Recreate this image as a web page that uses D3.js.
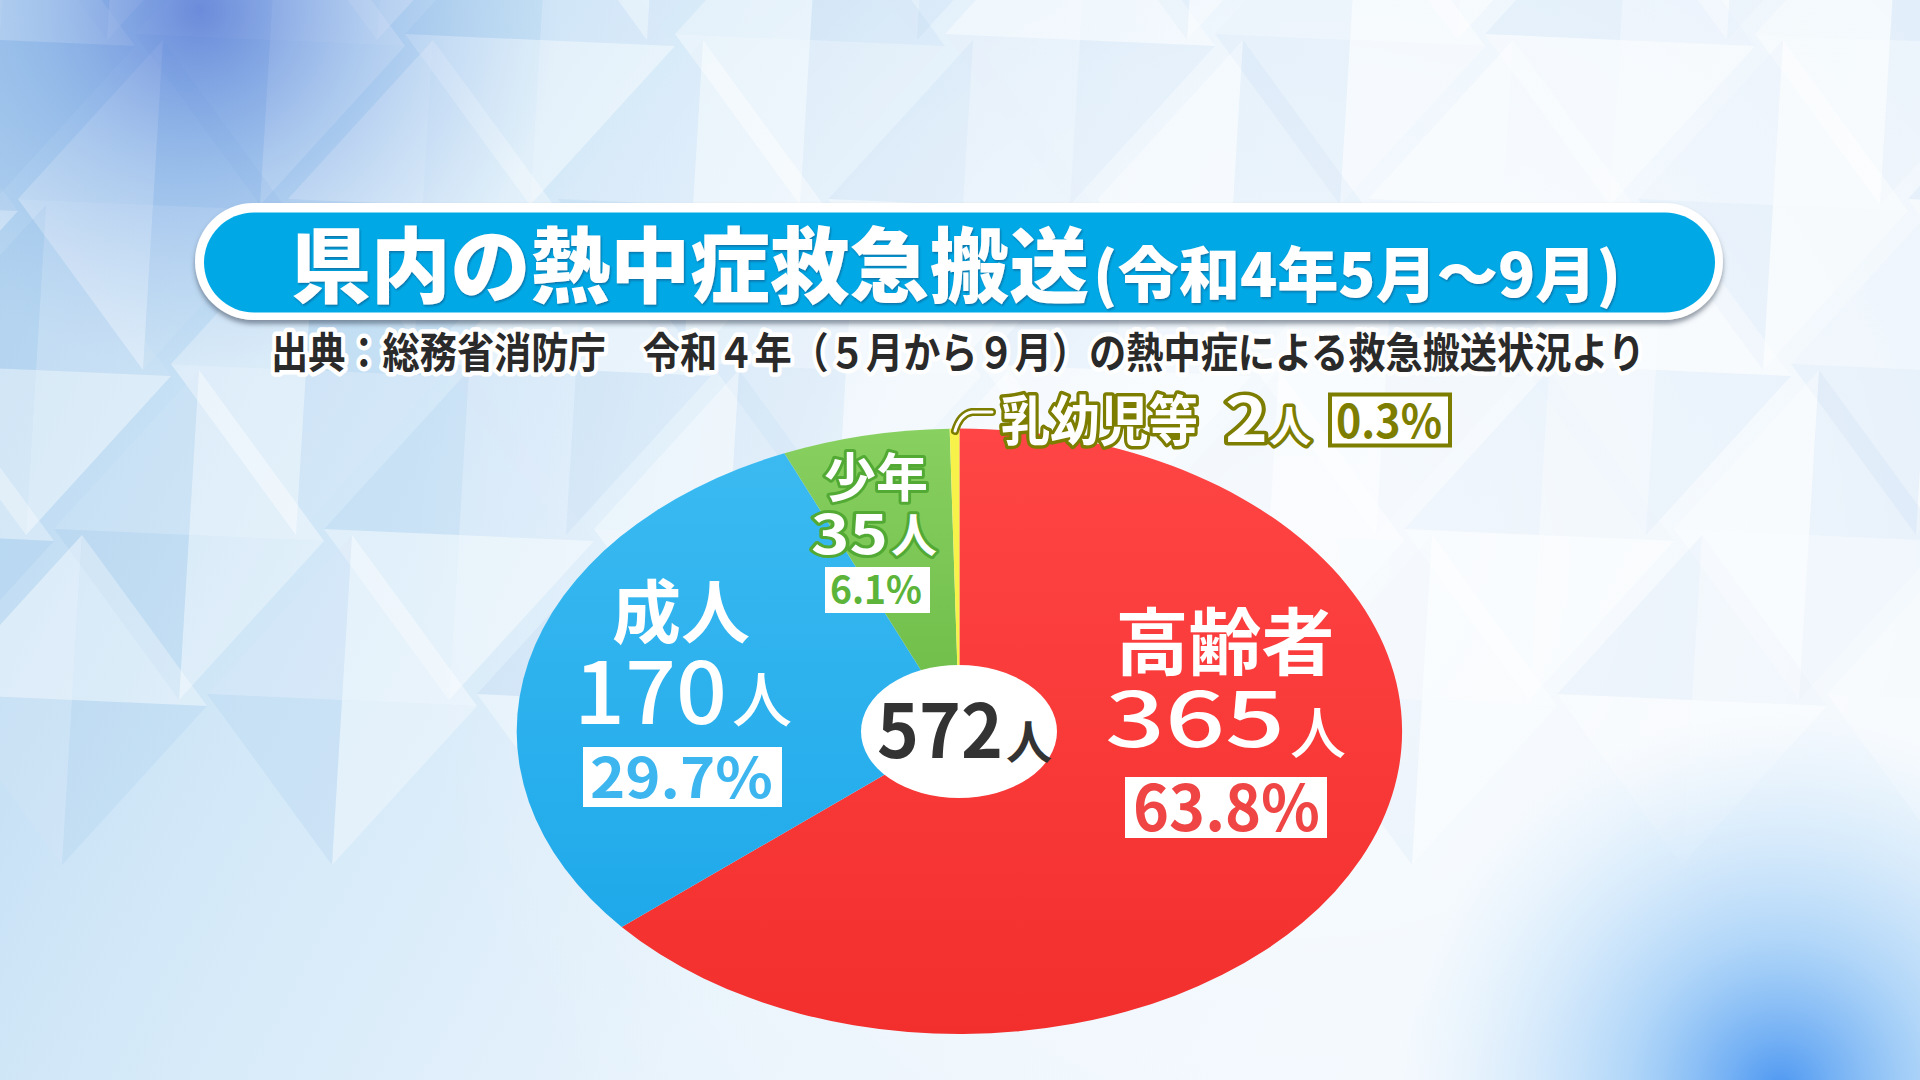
<!DOCTYPE html>
<html lang="ja">
<head>
<meta charset="utf-8">
<script src="https://cdn.jsdelivr.net/npm/d3@7/dist/d3.min.js"></script>
<style>
  html, body { margin: 0; padding: 0; background: #e6f2fb; overflow: hidden; }
  svg { display: block; }
  text { font-family: "Noto Sans CJK JP", "Noto Sans", sans-serif; }
</style>
</head>
<body>
<svg id="chart" width="1920" height="1080"></svg>
<script>
// ---------------- DATA ----------------
const titleMain = "県内の熱中症救急搬送";
const titleSub = "(令和4年5月〜9月)";
const sourceText = "出典：総務省消防庁　令和４年（５月から９月）の熱中症による救急搬送状況より";
const categories = ["高齢者", "成人", "少年", "乳幼児等"];
const counts = [365, 170, 35, 2];
const percentLabels = ["63.8%", "29.7%", "6.1%", "0.3%"];
const totalCount = 572;
const unit = "人";

// ---------------- STYLE / LAYOUT ----------------
const W = 1920, H = 1080;
const pieCx = 959.4, pieCy = 731.3, pieRx = 442.7, pieRy = 302.7;
const sliceFill = ["url(#gRed)", "url(#gBlue)", "url(#gGreen)", "#f6f24a"];

const svg = d3.select("#chart");
const defs = svg.append("defs");

function linGrad(id, x1, y1, x2, y2, stops) {
  const g = defs.append("linearGradient").attr("id", id)
    .attr("x1", x1).attr("y1", y1).attr("x2", x2).attr("y2", y2);
  stops.forEach(s => g.append("stop").attr("offset", s[0]).attr("stop-color", s[1]).attr("stop-opacity", s[2] == null ? 1 : s[2]));
  return g;
}
function radGrad(id, cx, cy, r, stops) {
  const g = defs.append("radialGradient").attr("id", id)
    .attr("gradientUnits", "userSpaceOnUse")
    .attr("cx", cx).attr("cy", cy).attr("r", r);
  stops.forEach(s => g.append("stop").attr("offset", s[0]).attr("stop-color", s[1]).attr("stop-opacity", s[2]));
  return g;
}

linGrad("gBg", "0", "0", "1", "0.3", [[0, "#b2d3ef"], [0.3, "#d2e8f8"], [0.6, "#e8f3fc"], [1, "#f0f7fd"]]);
linGrad("gRed", "0", "0", "0", "1", [[0, "#ff4545"], [1, "#f22f2d"]]);
linGrad("gBlue", "0", "0", "0", "1", [[0, "#3bbaf1"], [1, "#1fa9ea"]]);
linGrad("gGreen", "0", "0", "0", "1", [[0, "#88d060"], [1, "#6cbb47"]]);
radGrad("gTL", 200, 10, 360, [[0, "#5676d4", 0.8], [0.45, "#6a98e0", 0.4], [1, "#8fb8ea", 0]]);
radGrad("gBR", 1780, 1090, 380, [[0, "#3a8cf0", 0.9], [0.4, "#6fb4f4", 0.5], [1, "#b5dcf8", 0]]);
radGrad("gWhite", 1300, 560, 900, [[0, "#ffffff", 0.6], [0.6, "#ffffff", 0.3], [1, "#ffffff", 0]]);

const fShadow = defs.append("filter").attr("id", "fShadow")
  .attr("x", "-5%").attr("y", "-20%").attr("width", "110%").attr("height", "150%");
fShadow.append("feDropShadow").attr("dx", 0).attr("dy", 4).attr("stdDeviation", 2.5)
  .attr("flood-color", "#3a4a5a").attr("flood-opacity", 0.55);

const fTxt = defs.append("filter").attr("id", "fTxt")
  .attr("x", "-5%").attr("y", "-20%").attr("width", "110%").attr("height", "150%");
fTxt.append("feDropShadow").attr("dx", 1).attr("dy", 1.5).attr("stdDeviation", 0.8)
  .attr("flood-color", "#0b4a78").attr("flood-opacity", 0.6);

// ---------------- BACKGROUND ----------------
svg.append("rect").attr("width", W).attr("height", H).attr("fill", "url(#gBg)");

// faceted crystal lattice (decorative)
const bg = svg.append("g");
const cellW = 270, cellH = 330;
const facetOp = [0.32, 0.04, 0.16, 0.42];
const facetBlue = [0.00, 0.09, 0.04, 0.00];
for (let j = -1; j <= 4; j++) {
  for (let i = -1; i <= 8; i++) {
    const cx = i * cellW + (j % 2 ? cellW / 2 : 0) + j * 18;
    const cy = j * cellH / 2 + 40;
    const top = [cx + 10, cy - cellH / 2], right = [cx + cellW / 2, cy + 6],
          bot = [cx - 10, cy + cellH / 2], left = [cx - cellW / 2, cy - 6];
    const tris = [[top, right], [right, bot], [bot, left], [left, top]];
    const k = ((i * 3 + j * 5) % 4 + 4) % 4;
    tris.forEach((t, n) => {
      const m = (n + k) % 4;
      const pts = [[cx, cy], t[0], t[1]].map(p => p.join(",")).join(" ");
      bg.append("polygon").attr("points", pts).attr("fill", "#ffffff").attr("fill-opacity", facetOp[m]);
      if (facetBlue[m] > 0)
        bg.append("polygon").attr("points", pts).attr("fill", "#5aa0e0").attr("fill-opacity", facetBlue[m]);
    });
  }
}
svg.append("rect").attr("width", W).attr("height", H).attr("fill", "url(#gWhite)");
svg.append("rect").attr("width", W).attr("height", H).attr("fill", "url(#gTL)");
svg.append("rect").attr("width", W).attr("height", H).attr("fill", "url(#gBR)");

// ---------------- TITLE ----------------
const title = svg.append("g");
title.append("rect").attr("x", 195).attr("y", 203).attr("width", 1528).attr("height", 117)
  .attr("rx", 58.5).attr("fill", "#ffffff").attr("filter", "url(#fShadow)");
title.append("rect").attr("x", 204).attr("y", 212.5).attr("width", 1511).attr("height", 100)
  .attr("rx", 50).attr("fill", "#00a9e6");
const tt = title.append("text").attr("font-weight", 900).attr("fill", "#ffffff").attr("filter", "url(#fTxt)");
tt.append("tspan").attr("x", 291).attr("y", 296).attr("font-size", 82)
  .attr("textLength", 798).attr("lengthAdjust", "spacingAndGlyphs").text(titleMain);
tt.append("tspan").attr("x", 1093).attr("y", 297).attr("font-size", 60)
  .attr("textLength", 528).attr("lengthAdjust", "spacingAndGlyphs").text(titleSub);

svg.append("text").attr("x", 271).attr("y", 368)
  .attr("font-size", 42).attr("font-weight", 700).attr("fill", "#2a2a2a")
  .attr("stroke", "#ffffff").attr("stroke-width", 9).attr("stroke-linejoin", "round")
  .attr("paint-order", "stroke")
  .attr("textLength", 1374).attr("lengthAdjust", "spacingAndGlyphs")
  .text(sourceText);

// ---------------- PIE ----------------
const pie = d3.pie().sort(null).value(d => d).startAngle(0).endAngle(2 * Math.PI);
const arc = d3.arc().innerRadius(0).outerRadius(pieRx);
const arcs = pie(counts);

const pieG = svg.append("g")
  .attr("transform", `translate(${pieCx},${pieCy}) scale(1,${pieRy / pieRx})`);
pieG.selectAll("path").data(arcs).join("path")
  .attr("d", arc)
  .attr("fill", (d, i) => sliceFill[i]);

// ---------------- LABELS ----------------
// one <text> per label group, each line a positioned tspan
function label(g, lines) {
  const t = g.append("text");
  lines.forEach(o => {
    const s = t.append("tspan").attr("x", o.x).attr("y", o.y)
      .attr("font-size", o.size).attr("font-weight", o.weight || 700)
      .attr("fill", o.fill || "#ffffff")
      .attr("text-anchor", o.anchor || "start");
    if (o.len) s.attr("textLength", o.len).attr("lengthAdjust", "spacingAndGlyphs");
    if (o.stroke) s.attr("stroke", o.stroke).attr("stroke-width", o.sw || 6)
      .attr("stroke-linejoin", "round").attr("paint-order", "stroke");
    s.text(o.text);
  });
  return t;
}

// centre total
svg.append("ellipse").attr("cx", 959).attr("cy", 731.5).attr("rx", 98).attr("ry", 66.5).attr("fill", "#ffffff");
label(svg, [
  { x: 877, y: 758, size: 74, weight: 600, len: 126, fill: "#333333", text: totalCount },
  { x: 1006, y: 759, size: 46, weight: 600, fill: "#333333", text: unit }
]);

const lab = svg.append("g");

// 高齢者
lab.append("rect").attr("x", 1125).attr("y", 777).attr("width", 202).attr("height", 61).attr("fill", "#ffffff");
label(lab, [
  { x: 1225, y: 669, size: 73, anchor: "middle", text: categories[0] },
  { x: 1105, y: 747, size: 76, weight: 500, len: 180, text: counts[0] },
  { x: 1290, y: 753, size: 56, weight: 500, text: unit },
  { x: 1133, y: 831, size: 63, weight: 600, len: 187, fill: "#f04545", text: percentLabels[0] }
]);

// 成人
lab.append("rect").attr("x", 583).attr("y", 747).attr("width", 199).attr("height", 60).attr("fill", "#ffffff");
label(lab, [
  { x: 681, y: 638, size: 69, anchor: "middle", text: categories[1] },
  { x: 574, y: 724, size: 86, weight: 500, len: 153, text: counts[1] },
  { x: 732, y: 722, size: 60, weight: 500, text: unit },
  { x: 590, y: 798, size: 56, weight: 600, len: 183, fill: "#3db6f0", text: percentLabels[1] }
]);

// 少年
const green = "#52a934";
lab.append("rect").attr("x", 825).attr("y", 567).attr("width", 105).attr("height", 46).attr("fill", "#ffffff");
label(lab, [
  { x: 876, y: 497, size: 52, anchor: "middle", stroke: green, sw: 6, text: categories[2] },
  { x: 811, y: 554, size: 54, weight: 700, len: 77, stroke: green, sw: 6, text: counts[2] },
  { x: 891, y: 552, size: 46, weight: 700, stroke: green, sw: 6, text: unit },
  { x: 830, y: 604, size: 39, weight: 700, len: 92, fill: "#5cb43a", text: percentLabels[2] }
]);

// 乳幼児等
const olive = "#7d7d00";
const leader = "M955,431 Q960,414 972,412 L992,412";
lab.append("path").attr("d", leader)
  .attr("fill", "none").attr("stroke", olive).attr("stroke-width", 8).attr("stroke-linecap", "round");
lab.append("path").attr("d", leader)
  .attr("fill", "none").attr("stroke", "#ffffff").attr("stroke-width", 3).attr("stroke-linecap", "round");
lab.append("rect").attr("x", 1330).attr("y", 394.5).attr("width", 120).attr("height", 51)
  .attr("fill", "#ffffff").attr("stroke", olive).attr("stroke-width", 4);
label(lab, [
  { x: 1001, y: 441, size: 54, weight: 700, len: 197, stroke: olive, sw: 7, text: categories[3] },
  { x: 1225, y: 442, size: 62, weight: 700, len: 43, stroke: olive, sw: 7, text: counts[3] },
  { x: 1269, y: 442, size: 42, weight: 700, stroke: olive, sw: 7, text: unit },
  { x: 1336, y: 438, size: 46, weight: 700, len: 106, fill: olive, text: percentLabels[3] }
]);
</script>
</body>
</html>
